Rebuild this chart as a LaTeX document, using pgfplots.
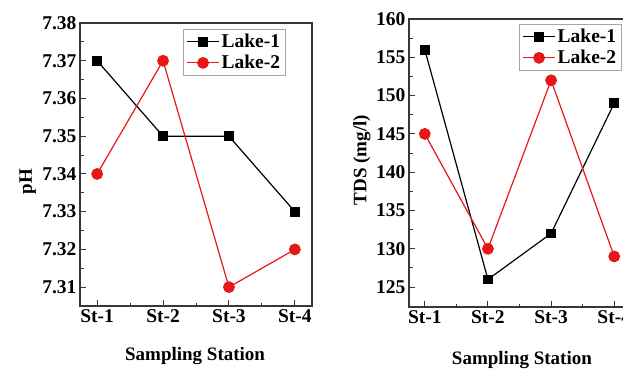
\documentclass[border=0pt]{standalone}
\usepackage{pgfplots}
\pgfplotsset{compat=1.18}
\usepackage{fontspec}
\setmainfont{Liberation Serif}
\definecolor{myred}{RGB}{232,22,22}
\definecolor{axgray}{RGB}{55,55,55}
\pgfplotsset{
  mystyle/.style={
    scale only axis,
    anchor=south west,
    xmin=-0.26, xmax=3.26,
    xtick={0,1,2,3},
    xticklabels={St-1,St-2,St-3,St-4},
    minor xtick={0.5,1.5,2.5},
    tick pos=left,
    tick align=inside,
    major tick length=6pt,
    minor tick length=3.5pt,
    every tick/.style={axgray, line width=1pt},
    axis line style={axgray, line width=1.4pt},
    /pgf/number format/assume math mode=true,
    ticklabel style={font=\bfseries\fontsize{19.5}{22}\selectfont},
    label style={font=\bfseries\fontsize{19}{22}\selectfont},
    legend style={draw=gray!70, line width=0.8pt, font=\bfseries\fontsize{19.5}{22}\selectfont,
      row sep=2pt, inner xsep=3pt, inner ysep=3pt, cells={anchor=west}},
    legend image code/.code={
      \draw[mark repeat=2,mark phase=2] plot coordinates {(0pt,0pt) (16pt,0pt) (32pt,0pt)};
    },
    clip=false,
  },
  l1/.style={black, line width=1.2pt, mark=square*, mark size=4.3pt, mark options={solid}},
  l2/.style={myred, line width=1.2pt, mark=*, mark size=5.3pt, mark options={solid}},
}
\begin{document}
\begin{tikzpicture}
\path[use as bounding box] (0,0) rectangle (623pt,368pt);
\clip (0,0) rectangle (623pt,368pt);
\begin{axis}[mystyle,
  at={(80pt,62pt)}, width=232pt, height=283pt,
  ymin=7.305, ymax=7.38,
  ytick={7.31,7.32,7.33,7.34,7.35,7.36,7.37,7.38},
  minor ytick={7.305,7.315,7.325,7.335,7.345,7.355,7.365,7.375},
  yticklabel style={/pgf/number format/.cd, fixed, fixed zerofill, precision=2},
  ylabel={pH},
  ylabel style={at={(axis description cs:-0.225,0.44)}, anchor=center, rotate=0},
  xlabel={Sampling Station},
  xlabel style={at={(axis description cs:0.496,-0.175)}, anchor=center},
  legend style={at={(0.444,0.979)}, anchor=north west},
]
\addplot[l1] coordinates {(0,7.37) (1,7.35) (2,7.35) (3,7.33)};
\addlegendentry{Lake-1}
\addplot[l2] coordinates {(0,7.34) (1,7.37) (2,7.31) (3,7.32)};
\addlegendentry{Lake-2}
\end{axis}
\begin{axis}[mystyle,
  at={(409pt,61pt)}, width=221pt, height=288pt,
  xmin=-0.25, xmax=3.25,
  ymin=122.4, ymax=160,
  ytick={125,130,135,140,145,150,155,160},
  minor ytick={122.5,127.5,132.5,137.5,142.5,147.5,152.5,157.5},
  ylabel={TDS (mg/l)},
  ylabel style={at={(axis description cs:-0.213,0.51)}, anchor=center, rotate=0},
  xlabel={Sampling Station},
  xlabel style={at={(axis description cs:0.511,-0.184)}, anchor=center},
  legend style={at={(0.498,0.983)}, anchor=north west},
]
\addplot[l1] coordinates {(0,156) (1,126) (2,132) (3,149)};
\addlegendentry{Lake-1}
\addplot[l2] coordinates {(0,145) (1,130) (2,152) (3,129)};
\addlegendentry{Lake-2}
\end{axis}
\end{tikzpicture}
\end{document}
